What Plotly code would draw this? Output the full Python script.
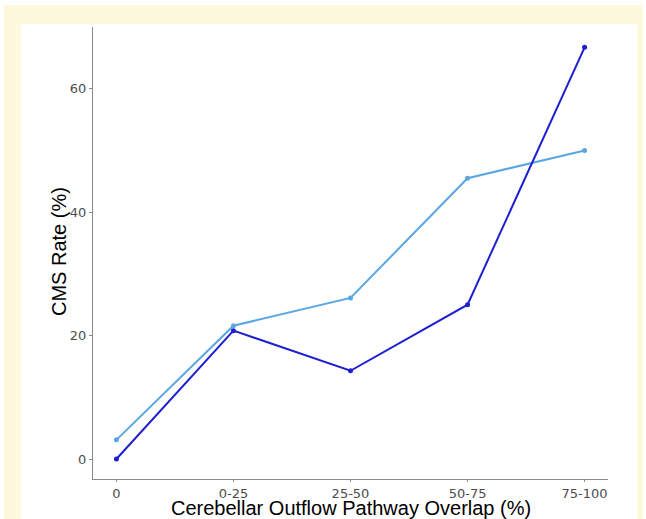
import plotly.graph_objects as go

categories = ["0", "0-25", "25-50", "50-75", "75-100"]
series_dark = [0.0, 20.8, 14.3, 25.0, 66.7]
series_light = [3.1, 21.6, 26.1, 45.5, 50.0]
y_ticks = [0, 20, 40, 60]
x_title = "Cerebellar Outflow Pathway Overlap (%)"
y_title = "CMS Rate (%)"

W, H = 646, 519
L, R, T, B = 93, 38, 27, 40
pw, ph = W - L - R, H - T - B

def fx(px):
    return (px - L) / pw

def fy(py):
    return (H - B - py) / ph

x_idx = list(range(len(categories)))

fig = go.Figure()
fig.add_trace(go.Scatter(x=x_idx, y=series_light, mode="lines+markers",
                         line=dict(color="#5aa6e2", width=2),
                         marker=dict(color="#5aa6e2", size=5), showlegend=False))
fig.add_trace(go.Scatter(x=x_idx, y=series_dark, mode="lines+markers",
                         line=dict(color="#1f1fd2", width=2),
                         marker=dict(color="#1f1fd2", size=5), showlegend=False))

fig.add_shape(type="rect", xref="paper", yref="paper",
              x0=fx(4), x1=fx(643), y0=fy(525), y1=fy(5),
              fillcolor="#fef8dc", line=dict(width=0), layer="below")
fig.add_shape(type="rect", xref="paper", yref="paper",
              x0=fx(21), x1=fx(637), y0=fy(530), y1=fy(24),
              fillcolor="white", line=dict(width=0), layer="below")

title_font = dict(family="Liberation Sans", size=20, color="black")
fig.add_annotation(text=x_title, xref="paper", yref="paper", x=0.5, y=fy(508),
                   xanchor="center", yanchor="middle", showarrow=False, font=title_font)
fig.add_annotation(text=y_title, xref="paper", yref="paper", x=fx(59), y=fy(252),
                   xanchor="center", yanchor="middle", showarrow=False, textangle=-90,
                   font=title_font)

fig.update_layout(
    width=W, height=H,
    margin=dict(l=L, r=R, t=T, b=B, autoexpand=False),
    paper_bgcolor="white", plot_bgcolor="white",
    xaxis=dict(range=[-0.2, 4.2], tickmode="array", tickvals=x_idx, ticktext=categories,
               automargin=False,
               showline=True, linecolor="#8a8a8a", linewidth=1, showgrid=False, zeroline=False,
               ticks="outside", ticklen=2, tickcolor="#8a8a8a",
               tickfont=dict(family="DejaVu Sans", size=13, color="#4d4d4d")),
    yaxis=dict(range=[-3.24, 70], tickmode="array", tickvals=y_ticks,
               automargin=False,
               showline=True, linecolor="#8a8a8a", linewidth=1, showgrid=False, zeroline=False,
               ticks="outside", ticklen=3, tickcolor="#8a8a8a",
               tickfont=dict(family="DejaVu Sans", size=13, color="#4d4d4d")),
)

fig.write_html("out.html", config={"displayModeBar": False},
               post_script="document.body.style.margin='0';document.body.style.padding='0';")
